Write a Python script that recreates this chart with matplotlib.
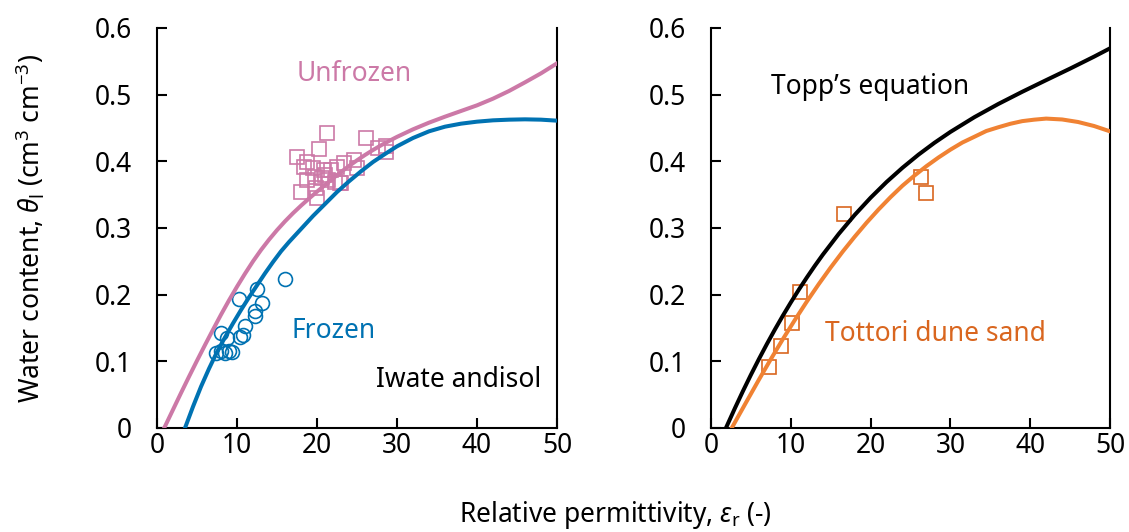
import matplotlib
matplotlib.use("Agg")
import matplotlib.pyplot as plt

plt.rcParams['font.family'] = ['Noto Sans', 'DejaVu Sans']
plt.rcParams['mathtext.fontset'] = 'custom'
plt.rcParams['mathtext.rm'] = 'Noto Sans'
plt.rcParams['mathtext.it'] = 'Noto Sans:italic'

PINK = '#CC79A7'
BLUE = '#0072B2'
ORANGE_LINE = '#F08233'
ORANGE_MK = '#D9661F'

# left panel: Iwate andisol
unfrozen_eps = [0.9, 2, 3, 4, 5, 6, 7, 8, 9, 10, 11, 12, 13, 14, 15, 16, 17, 18, 19, 20, 21, 22, 23, 24,
                25, 26, 27, 28, 29, 30, 32, 34, 36, 38, 40, 42, 44, 46, 48, 50]
unfrozen_theta = [0.0, 0.0275, 0.0525, 0.077, 0.101, 0.1245, 0.1475, 0.17, 0.1915, 0.212, 0.2315, 0.25,
                  0.267, 0.2825, 0.2968, 0.31, 0.3222, 0.3335, 0.3442, 0.3545, 0.3645, 0.3745, 0.384, 0.393,
                  0.4015, 0.4095, 0.417, 0.424, 0.4305, 0.4367, 0.448, 0.458, 0.467, 0.4755, 0.484, 0.494,
                  0.5055, 0.5185, 0.532, 0.547]
frozen_eps = [3.5, 4.5, 5.5, 6.5, 7.5, 8.5, 9.5, 10.5, 11.5, 12.5, 13.5, 14.5, 15.5, 16.5, 17.5, 18.5, 19.5,
              21, 22.5, 24, 25.5, 27, 28.5, 30, 32, 34, 36, 38, 40, 42, 44, 46, 48, 50]
frozen_theta = [0.0, 0.032, 0.062, 0.089, 0.114, 0.136, 0.157, 0.177, 0.196, 0.214, 0.232, 0.249, 0.265,
                0.279, 0.292, 0.305, 0.318, 0.336, 0.354, 0.37, 0.385, 0.399, 0.411, 0.4225, 0.435, 0.445,
                0.452, 0.4565, 0.4595, 0.4615, 0.4625, 0.463, 0.4625, 0.461]

unfrozen_obs_eps = [21.2, 20.3, 17.5, 18.7, 18.4, 19.5, 20.9, 21.8, 22.5, 23.4, 18.7, 19.75, 20.6,
                    21.4, 22.25, 22.9, 18.0, 20.0, 19.9, 26.1, 27.6, 28.6, 28.6, 24.6, 25.0, 23.0, 21.0]
unfrozen_obs_theta = [0.442, 0.418, 0.406, 0.3995, 0.392, 0.3895, 0.387, 0.387, 0.392, 0.397, 0.372, 0.377, 0.3745,
                      0.372, 0.3695, 0.367, 0.3545, 0.3445, 0.36, 0.435, 0.42, 0.423, 0.414, 0.402, 0.39, 0.367, 0.38]
frozen_obs_eps = [7.4, 8.0, 8.5, 9.0, 9.4, 8.0, 8.8, 10.4, 10.7, 11.0, 12.25, 12.25, 13.1, 10.2, 12.5, 16.0]
frozen_obs_theta = [0.112, 0.115, 0.112, 0.116, 0.114, 0.142, 0.135, 0.136, 0.140, 0.153, 0.168, 0.176, 0.187,
                    0.194, 0.208, 0.2235]

# right panel: Tottori dune sand
topp_eps = [1.87, 3, 4, 5, 6, 7, 8, 9, 10, 11, 12, 13, 14, 16, 18, 20, 22, 24, 26, 28, 30, 33, 36, 39,
            42, 45, 48, 50]
topp_theta = [0.0, 0.0298, 0.0553, 0.0798, 0.1033, 0.1259, 0.1476, 0.1684, 0.1883, 0.2074, 0.2256, 0.2431,
              0.2598, 0.291, 0.3195, 0.3454, 0.369, 0.3904, 0.41, 0.4278, 0.4441, 0.4662, 0.486, 0.5043,
              0.5218, 0.5391, 0.557, 0.5695]
tottori_eps = [2.6, 3, 4.5, 6, 7.5, 9, 10.5, 12, 13.5, 15, 16.5, 18, 19.5, 21, 22.5, 24, 25.5, 27, 28.5,
               30, 31.5, 33, 34.5, 36, 37.5, 39, 40.5, 42, 44, 46, 48, 50]
tottori_theta = [0.0, 0.0086, 0.0406, 0.0724, 0.1033, 0.1332, 0.1619, 0.1895, 0.2158, 0.2408, 0.2645,
                 0.2868, 0.308, 0.3278, 0.3463, 0.3635, 0.3787, 0.3928, 0.4057, 0.4175, 0.4282, 0.4368,
                 0.4455, 0.4511, 0.4563, 0.4603, 0.4625, 0.4641, 0.4628, 0.459, 0.453, 0.445]
tottori_obs_eps = [7.3, 8.8, 10.2, 11.2, 16.7, 26.3, 26.9]
tottori_obs_theta = [0.091, 0.123, 0.158, 0.2045, 0.321, 0.376, 0.352]

fig = plt.figure(figsize=(11.29, 5.32), dpi=100)
ax1 = fig.add_axes([157/1129, 1-428/532, 400/1129, 400/532])
ax2 = fig.add_axes([711/1129, 1-428/532, 399/1129, 400/532])

FS = 19

ax1.plot(unfrozen_eps, unfrozen_theta, color=PINK, lw=2.9, zorder=3)
ax1.plot(frozen_eps, frozen_theta, color=BLUE, lw=2.9, zorder=3)
ax1.plot(unfrozen_obs_eps, unfrozen_obs_theta, 's', ms=10, mfc='none', mec=PINK, mew=1.2, zorder=2)
ax1.plot(frozen_obs_eps, frozen_obs_theta, 'o', ms=10, mfc='none', mec=BLUE, mew=1.2, zorder=2)
ax1.text(17.4, 0.531, 'Unfrozen', color=PINK, fontsize=FS, va='center')
ax1.text(16.75, 0.145, 'Frozen', color=BLUE, fontsize=FS, va='center')
ax1.text(27.4, 0.072, 'Iwate andisol', color='black', fontsize=FS, va='center')

ax2.plot(topp_eps, topp_theta, color='black', lw=2.9, zorder=3)
ax2.plot(tottori_eps, tottori_theta, color=ORANGE_LINE, lw=2.9, zorder=3)
ax2.plot(tottori_obs_eps, tottori_obs_theta, 's', ms=10, mfc='none', mec=ORANGE_MK, mew=1.2, zorder=2)
ax2.text(7.5, 0.511, 'Topp\u2019s equation', color='black', fontsize=FS, va='center')
ax2.text(14.3, 0.141, 'Tottori dune sand', color=ORANGE_MK, fontsize=FS, va='center')

for ax in (ax1, ax2):
    ax.set_xlim(0, 50)
    ax.set_ylim(0, 0.6)
    ax.set_xticks([0, 10, 20, 30, 40, 50])
    ax.set_yticks([0, 0.1, 0.2, 0.3, 0.4, 0.5, 0.6])
    ax.set_yticklabels(['0', '0.1', '0.2', '0.3', '0.4', '0.5', '0.6'])
    ax.tick_params(direction='in', length=7, width=1.5, labelsize=FS)
    ax.tick_params(axis='y', pad=18)
    ax.tick_params(axis='x', pad=3)
    ax.spines['top'].set_visible(False)
    for s in ('left', 'bottom', 'right'):
        ax.spines[s].set_linewidth(1.5)

fig.text(30/1129, 1-228/532, r'Water content, $\theta_\mathrm{l}$ (cm$^3$ cm$^{-3}$)',
         rotation=90, ha='center', va='center', fontsize=FS)
fig.text(615/1129, 1-515/532, r'Relative permittivity, $\varepsilon_\mathrm{r}$ (-)',
         ha='center', va='center', fontsize=FS)

fig.savefig('out.png', dpi=100)
